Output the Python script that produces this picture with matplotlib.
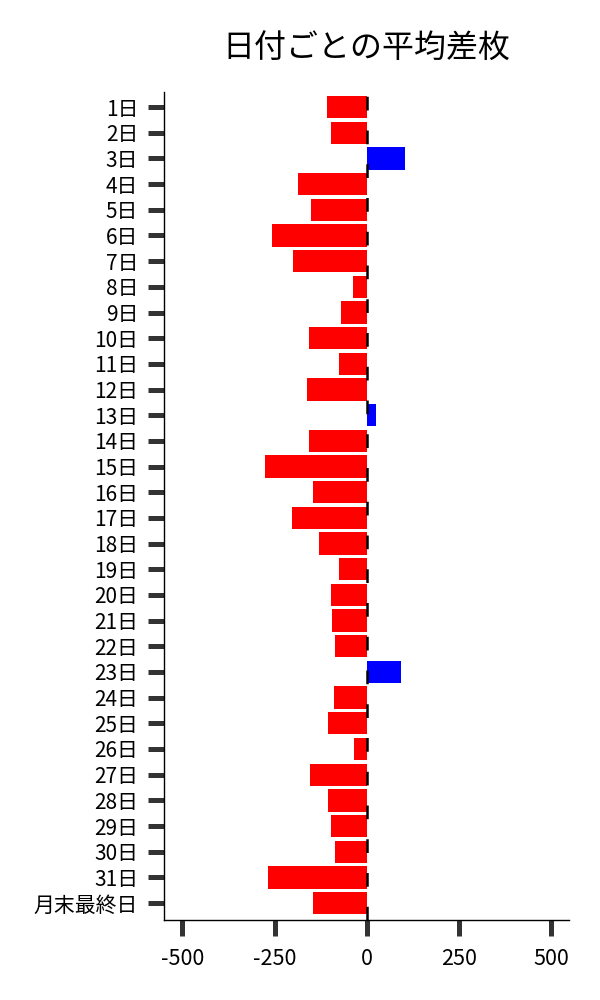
import matplotlib.pyplot as plt

plt.rcParams['font.family'] = ['Noto Sans CJK JP', 'DejaVu Sans']

# 日付ラベルと平均差枚
days = [f'{i}日' for i in range(1, 32)] + ['月末最終日']
avg_diff = [-108, -98, 103, -187, -152, -258, -201, -37, -71, -157,
            -76, -163, 24, -157, -277, -146, -203, -130, -76, -98,
            -95, -87, 92, -90, -106, -35, -155, -106, -98, -87,
            -269, -146]
x_ticks = [-500, -250, 0, 250, 500]

colors = ['blue' if v > 0 else 'red' for v in avg_diff]

fig = plt.figure(figsize=(6, 10), dpi=100)
ax = fig.add_axes([0.2733, 0.08, 0.675, 0.8283])

ax.barh(range(len(days)), avg_diff, height=0.87, color=colors, zorder=2)
ax.axvline(0, color='black', linewidth=1.8, linestyle=(0, (5.5, 8)), zorder=3)

ax.set_yticks(range(len(days)))
ax.set_yticklabels(days)
ax.set_ylim(len(days) - 1 + 0.66, -0.6)
ax.set_xlim(-550, 548)
ax.set_xticks(x_ticks)
ax.set_xticklabels([str(t) for t in x_ticks])

ax.tick_params(axis='both', length=11.5, width=3.6, color='#333333')
ax.tick_params(axis='y', pad=7, labelsize=15)
ax.tick_params(axis='x', pad=9, labelsize=15.5)

ax.spines['top'].set_visible(False)
ax.spines['right'].set_visible(False)
ax.spines['left'].set_linewidth(1)
ax.spines['bottom'].set_linewidth(1)

fig.text(0.611, 0.951, '日付ごとの平均差枚', ha='center', va='center', fontsize=23)

plt.savefig('out.png')
